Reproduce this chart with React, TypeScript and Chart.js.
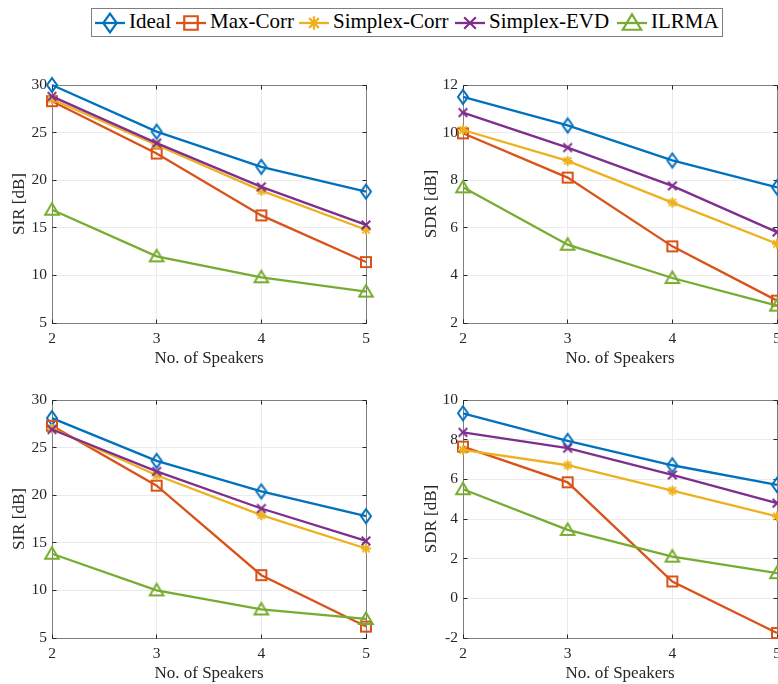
import React, { useEffect, useRef } from 'react';
import { Chart, registerables } from 'chart.js';

Chart.register(...registerables);

// ---------- data ----------
const speakers = [2, 3, 4, 5];
const seriesNames = ['Ideal', 'Max-Corr', 'Simplex-Corr', 'Simplex-EVD', 'ILRMA'];
const seriesColors = ['#0072BD', '#D95319', '#EDB120', '#7E2F8E', '#77AC30'];
const seriesMarkers = ['diamond', 'square', 'asterisk', 'cross', 'triangle'];

// top-left: SIR [dB]
const sirTopIdeal = [30.0, 25.1, 21.4, 18.8];
const sirTopMaxCorr = [28.3, 22.8, 16.3, 11.4];
const sirTopSimplexCorr = [28.5, 23.7, 18.9, 14.8];
const sirTopSimplexEvd = [28.8, 23.9, 19.3, 15.3];
const sirTopIlrma = [16.9, 12.0, 9.8, 8.3];

// top-right: SDR [dB]
const sdrTopIdeal = [11.5, 10.3, 8.83, 7.7];
const sdrTopMaxCorr = [9.97, 8.11, 5.22, 2.94];
const sdrTopSimplexCorr = [10.11, 8.81, 7.06, 5.33];
const sdrTopSimplexEvd = [10.84, 9.37, 7.76, 5.82];
const sdrTopIlrma = [7.7, 5.29, 3.89, 2.73];

// bottom-left: SIR [dB]
const sirBotIdeal = [28.1, 23.6, 20.4, 17.8];
const sirBotMaxCorr = [27.3, 21.0, 11.6, 6.2];
const sirBotSimplexCorr = [27.0, 22.1, 17.9, 14.4];
const sirBotSimplexEvd = [26.9, 22.5, 18.6, 15.2];
const sirBotIlrma = [13.85, 10.0, 8.0, 7.0];

// bottom-right: SDR [dB]
const sdrBotIdeal = [9.33, 7.94, 6.71, 5.72];
const sdrBotMaxCorr = [7.65, 5.85, 0.85, -1.75];
const sdrBotSimplexCorr = [7.48, 6.71, 5.43, 4.13];
const sdrBotSimplexEvd = [8.37, 7.57, 6.22, 4.8];
const sdrBotIlrma = [5.5, 3.45, 2.1, 1.27];

const xLabel = 'No. of Speakers';

// ---------- styles ----------
const FONT = "'Liberation Serif', 'Times New Roman', serif";
const TEXT = '#262626';
const GRID = '#ebebeb';
const FRAME = '#7f7f7f';

function drawShape(g: CanvasRenderingContext2D, shape: string, cx: number, cy: number, k: number) {
  g.beginPath();
  if (shape === 'diamond') {
    g.moveTo(cx, cy - 7 * k);
    g.lineTo(cx + 5 * k, cy);
    g.lineTo(cx, cy + 7 * k);
    g.lineTo(cx - 5 * k, cy);
    g.closePath();
  } else if (shape === 'square') {
    g.rect(cx - 5 * k, cy - 5 * k, 10 * k, 10 * k);
  } else if (shape === 'asterisk') {
    const r = 5 * k;
    const d = 3.6 * k;
    g.moveTo(cx - r, cy); g.lineTo(cx + r, cy);
    g.moveTo(cx, cy - r); g.lineTo(cx, cy + r);
    g.moveTo(cx - d, cy - d); g.lineTo(cx + d, cy + d);
    g.moveTo(cx - d, cy + d); g.lineTo(cx + d, cy - d);
  } else if (shape === 'cross') {
    const d = 4.3 * k;
    g.moveTo(cx - d, cy - d); g.lineTo(cx + d, cy + d);
    g.moveTo(cx - d, cy + d); g.lineTo(cx + d, cy - d);
  } else if (shape === 'triangle') {
    g.moveTo(cx, cy - 6.5 * k);
    g.lineTo(cx + 6.8 * k, cy + 5 * k);
    g.lineTo(cx - 6.8 * k, cy + 5 * k);
    g.closePath();
  }
  g.stroke();
}

function makeMarker(shape: string, color: string): HTMLCanvasElement {
  const S = 22;
  const c = document.createElement('canvas');
  c.width = S;
  c.height = S;
  const g = c.getContext('2d')!;
  g.strokeStyle = color;
  g.lineWidth = 2;
  g.lineJoin = 'miter';
  drawShape(g, shape, S / 2, S / 2, 1);
  return c;
}

const framePlugin = {
  id: 'frameTicks',
  beforeDatasetsDraw(chart: any) {
    const { ctx, chartArea: a, scales } = chart;
    const al = (v: number) => Math.round(v - 0.5) + 0.5;
    const L = al(a.left), R = al(a.right), T = al(a.top), B = al(a.bottom);
    ctx.save();
    ctx.lineWidth = 1;
    ctx.strokeStyle = FRAME;
    ctx.strokeRect(L, T, R - L, B - T);
    ctx.strokeStyle = TEXT;
    const tl = 4;
    ctx.beginPath();
    for (const t of scales.y.ticks) {
      const y = al(scales.y.getPixelForValue(t.value));
      ctx.moveTo(L, y); ctx.lineTo(L + tl, y);
      ctx.moveTo(R, y); ctx.lineTo(R - tl, y);
    }
    for (const t of scales.x.ticks) {
      const x = al(scales.x.getPixelForValue(t.value));
      ctx.moveTo(x, B); ctx.lineTo(x, B - tl);
      ctx.moveTo(x, T); ctx.lineTo(x, T + tl);
    }
    ctx.stroke();
    ctx.restore();
  },
};

type PanelProps = {
  left: number; top: number; width: number; height: number;
  yAxisW: number; padRight: number; titlePad: number;
  yLabel: string; yMin: number; yMax: number; yStep: number;
  values: number[][];
};

function Panel(p: PanelProps) {
  const ref = useRef<HTMLCanvasElement>(null);
  useEffect(() => {
    const c = ref.current!;
    const n = p.values.length;
    const chart = new Chart(c, {
      type: 'line',
      data: {
        datasets: p.values.map((vals, i) => ({
          label: seriesNames[i],
          data: speakers.map((s, j) => ({ x: s, y: vals[j] })),
          borderColor: seriesColors[i],
          backgroundColor: seriesColors[i],
          borderWidth: 2.3,
          pointStyle: makeMarker(seriesMarkers[i], seriesColors[i]),
          pointRadius: 7,
          order: n - i,
          clip: false,
          tension: 0,
        })),
      },
      options: {
        animation: false,
        responsive: false,
        devicePixelRatio: 1,
        events: [],
        layout: { padding: { top: 25, right: p.padRight, left: 0, bottom: 0 } },
        plugins: { legend: { display: false }, tooltip: { enabled: false } },
        scales: {
          x: {
            type: 'linear',
            min: 2,
            max: 5,
            afterFit: (s: any) => { s.height = 57; },
            ticks: { stepSize: 1, padding: 7, color: TEXT, font: { family: FONT, size: 15.5 } },
            grid: { color: GRID, drawTicks: false },
            border: { display: false },
            title: {
              display: true,
              text: xLabel,
              color: TEXT,
              font: { family: FONT, size: 17 },
              padding: { top: 0, bottom: 11.5 },
            },
          },
          y: {
            type: 'linear',
            min: p.yMin,
            max: p.yMax,
            afterFit: (s: any) => { s.width = p.yAxisW; },
            ticks: { stepSize: p.yStep, padding: 5, color: TEXT, font: { family: FONT, size: 15.5 } },
            grid: { color: GRID, drawTicks: false },
            border: { display: false },
            title: {
              display: true,
              text: p.yLabel,
              color: TEXT,
              font: { family: FONT, size: 17 },
              padding: { top: p.titlePad, bottom: 0 },
            },
          },
        },
      } as any,
      plugins: [framePlugin],
    });
    return () => chart.destroy();
  }, []);
  return (
    <canvas
      ref={ref}
      width={p.width}
      height={p.height}
      style={{ position: 'absolute', left: p.left, top: p.top, width: p.width, height: p.height }}
    />
  );
}

function LegendIcon({ shape, color }: { shape: string; color: string }) {
  const ref = useRef<HTMLCanvasElement>(null);
  useEffect(() => {
    const c = ref.current!;
    const g = c.getContext('2d')!;
    g.clearRect(0, 0, c.width, c.height);
    g.strokeStyle = color;
    g.lineWidth = 2.3;
    g.beginPath();
    g.moveTo(0, 15);
    g.lineTo(30, 15);
    g.stroke();
    g.lineWidth = 2.2;
    drawShape(g, shape, 15, 15, 1.35);
  }, []);
  return <canvas ref={ref} width={30} height={30} style={{ position: 'absolute', left: 0, top: 0 }} />;
}

const legendLineX = [95, 176, 299, 455, 617];

function Legend() {
  return (
    <>
      <div
        style={{
          position: 'absolute', left: 91, top: 8, width: 632, height: 29,
          boxSizing: 'border-box', border: `1px solid ${FRAME}`, background: '#fff',
        }}
      />
      {seriesNames.map((name, i) => (
        <div key={name} style={{ position: 'absolute', left: legendLineX[i], top: 8, height: 30 }}>
          <LegendIcon shape={seriesMarkers[i]} color={seriesColors[i]} />
          <span
            style={{
              position: 'absolute', left: 34, top: 3.4, fontFamily: FONT, fontSize: 21,
              lineHeight: '21px', whiteSpace: 'nowrap', color: '#000',
            }}
          >
            {name}
          </span>
        </div>
      ))}
    </>
  );
}

export default function App() {
  return (
    <div style={{ position: 'absolute', left: 0, top: 0, width: 778, height: 684, overflow: 'hidden', background: '#fff' }}>
      <Panel left={0} top={60} width={390} height={320} yAxisW={52} padRight={24} titlePad={9.8}
        yLabel="SIR [dB]" yMin={5} yMax={30} yStep={5}
        values={[sirTopIdeal, sirTopMaxCorr, sirTopSimplexCorr, sirTopSimplexEvd, sirTopIlrma]} />
      <Panel left={390} top={60} width={400} height={320} yAxisW={73} padRight={13} titlePad={31.8}
        yLabel="SDR [dB]" yMin={2} yMax={12} yStep={2}
        values={[sdrTopIdeal, sdrTopMaxCorr, sdrTopSimplexCorr, sdrTopSimplexEvd, sdrTopIlrma]} />
      <Panel left={0} top={375} width={390} height={320} yAxisW={52} padRight={24} titlePad={9.8}
        yLabel="SIR [dB]" yMin={5} yMax={30} yStep={5}
        values={[sirBotIdeal, sirBotMaxCorr, sirBotSimplexCorr, sirBotSimplexEvd, sirBotIlrma]} />
      <Panel left={390} top={375} width={400} height={320} yAxisW={73} padRight={13} titlePad={31.8}
        yLabel="SDR [dB]" yMin={-2} yMax={10} yStep={2}
        values={[sdrBotIdeal, sdrBotMaxCorr, sdrBotSimplexCorr, sdrBotSimplexEvd, sdrBotIlrma]} />
      <Legend />
    </div>
  );
}
